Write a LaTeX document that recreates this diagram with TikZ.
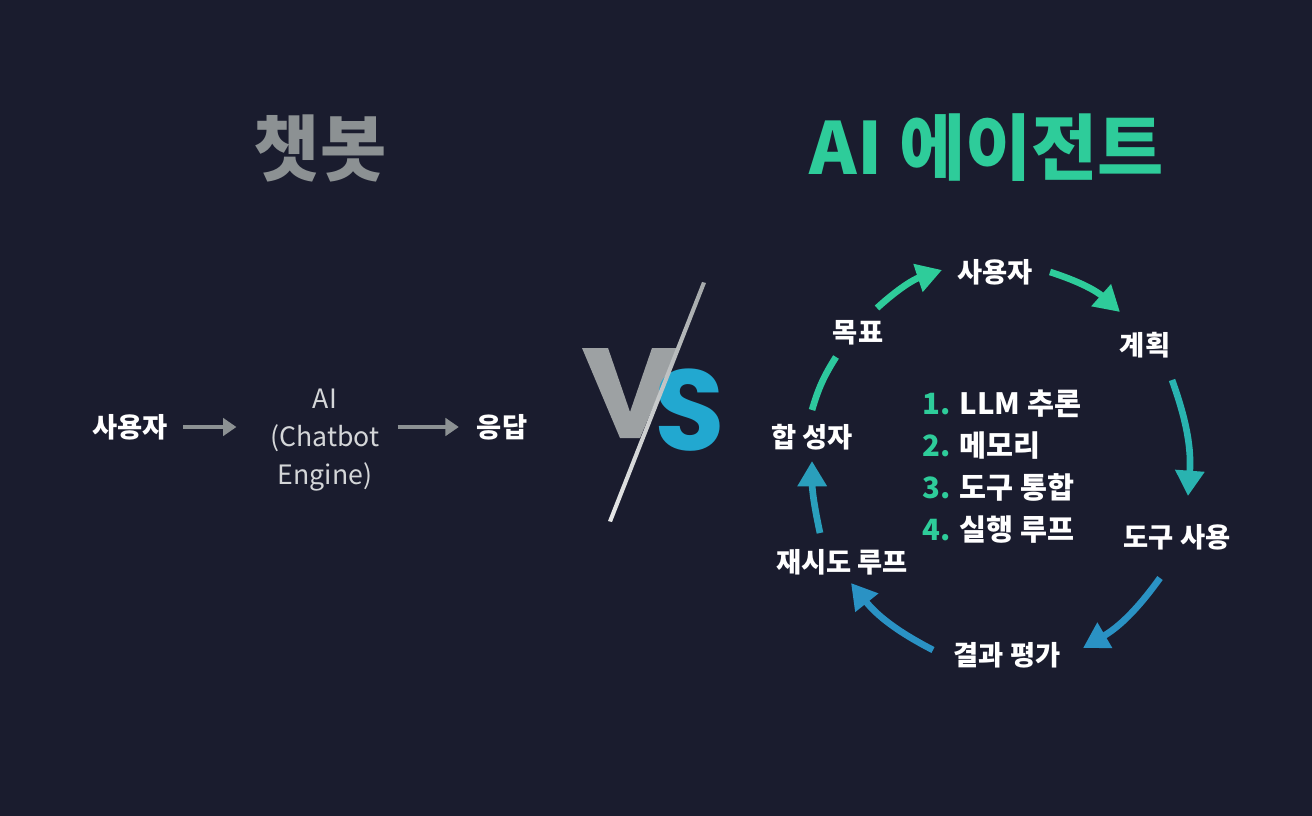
\documentclass[tikz,border=0pt]{standalone}
\usepackage{fontspec}
\setmainfont{Noto Sans CJK KR}
\newfontfamily\pop{Poppins}
\usetikzlibrary{arrows.meta}
\definecolor{bg}{HTML}{1A1C2E}
\definecolor{teal}{HTML}{2ECC9A}
\definecolor{tb}{HTML}{29B3B0}
\definecolor{blu}{HTML}{2A92C4}
\definecolor{gr}{HTML}{8C9193}
\definecolor{lg}{HTML}{D4D6D8}
\begin{document}
\begin{tikzpicture}[x=0.75pt,y=-0.75pt,
  lab/.style={text=white,font=\fontsize{20.5}{24}\selectfont\bfseries},
  cyc/.style={line width=5pt,-{Triangle[length=19pt,width=21pt]}},
  garr/.style={draw=gr,line width=3.5pt,-{Triangle[length=10pt,width=13pt]}}]
\fill[bg] (0,0) rectangle (1312,816);
\useasboundingbox (0,0) rectangle (1312,816);
% titles
\node[text=gr,font=\fontsize{54}{60}\selectfont\bfseries] (t1) at (320,148) {챗봇};
\node[text=teal,font=\fontsize{54}{60}\selectfont\bfseries] (t2) at (987,148) {AI 에이전트};
% chatbot flow
\node[lab] (u) at (130,427) {사용자};
\node[text=lg,align=center,font=\fontsize{20}{28.5}\selectfont] (ai) at (325,440) {AI\\(Chatbot\\Engine)};
\node[lab] (r) at (502,427) {응답};
\draw[garr] ([xshift=8pt]u.east) -- ([xshift=-22pt]ai.west |- u);
\draw[garr] ([xshift=10pt]ai.east |- r) -- ([xshift=-10pt]r.west);
% VS
\fill[gr!85!white] (582,348) -- (608,348) -- (630,412) -- (652,348) -- (678,348) -- (640,438) -- (620,438) -- cycle;
\node[text=blu!80!cyan,font=\pop\fontsize{86}{88}\selectfont\bfseries,inner sep=0] (s) at (690,410) {S};
\shade[left color=gr!20,right color=gr!80!white] (702,282) -- (706,283) -- (612,522) -- (608,521) -- cycle;
% cycle nodes
\node[lab] (goal) at (858,333) {목표};
\node[lab] (user) at (995,272) {사용자};
\node[lab] (plan) at (1145,345) {계획};
\node[lab] (tool) at (1177,537) {도구 사용};
\node[lab] (eval) at (1007,655) {결과 평가};
\node[lab] (retry) at (842,562) {재시도 루프};
\node[lab] (syn) at (812,437) {합 성자};
\node[lab,align=left,font=\fontsize{22}{31.5}\selectfont\bfseries,anchor=west] (list) at (918,467)
 {\textcolor{teal}{1.} LLM 추론\\\textcolor{teal}{2.} 메모리\\\textcolor{teal}{3.} 도구 통합\\\textcolor{teal}{4.} 실행 루프};
% cycle arrows
\draw[cyc,teal] (877,308) to[bend left=12] (942,270);
\draw[cyc,teal] (1050,272) to[bend left=12] (1120,312);
\draw[cyc,tb] (1172,380) to[bend left=12] (1188,496);
\draw[cyc,blu] (1160,578) to[bend left=12] (1083,648);
\draw[cyc,blu] (933,650) to[bend left=12] (851,583);
\draw[cyc,blu!60!tb] (820,533) to[bend left=6] (812,461);
\draw[line width=5pt,teal!85!tb] (812,410) to[bend left=8] (836,357);
\end{tikzpicture}
\end{document}
